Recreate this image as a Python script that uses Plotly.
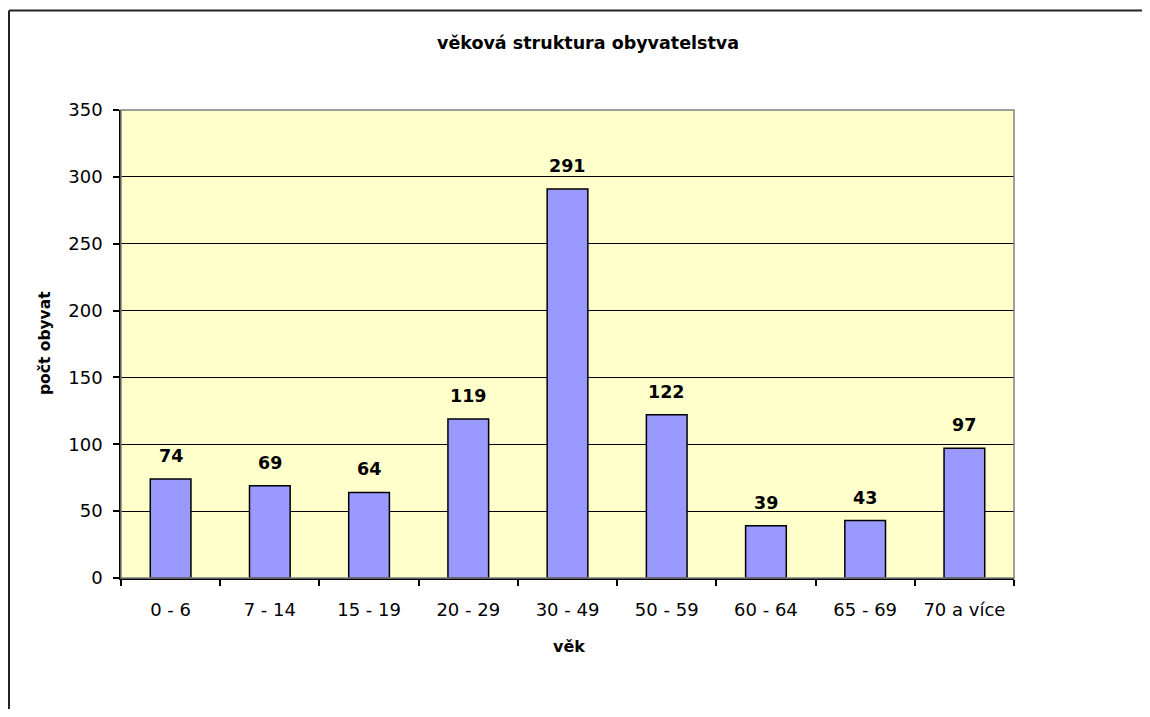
import plotly.graph_objects as go

categories = ["0 - 6", "7 - 14", "15 - 19", "20 - 29", "30 - 49", "50 - 59", "60 - 64", "65 - 69", "70 a více"]
values = [74, 69, 64, 119, 291, 122, 39, 43, 97]
y_ticks = [0, 50, 100, 150, 200, 250, 300, 350]

title_text = "věková struktura obyvatelstva"
x_title = "věk"
y_title = "počt obyvat"

OFF = 8  # page body margin
W, H = 1150 - 2 * OFF, 717 - 2 * OFF
# target page coordinates of plot area, converted to figure coordinates
L, R, T, B = 121 - OFF, 1014 - OFF, 110 - OFF, 578 - OFF
pw, ph = R - L, B - T

def px(x):  # page x -> paper
    return (x - OFF - L) / pw

def py(y):  # page y -> paper
    return (B - (y - OFF)) / ph

font = "DejaVu Sans, Verdana, sans-serif"

fig = go.Figure()
fig.add_trace(go.Bar(
    x=categories, y=values,
    marker=dict(color="#9999FF", line=dict(color="#000000", width=1.5)),
    hoverinfo="x+y",
))

annotations = []
for c, v in zip(categories, values):
    annotations.append(dict(x=c, y=v, xref="x", yref="y", text=f"<b>{v}</b>",
                            showarrow=False, yshift=23, yanchor="middle",
                            font=dict(family=font, size=17.5, color="#000000")))
annotations.append(dict(x=px(587.5), y=py(43), xref="paper", yref="paper",
                        text=f"<b>{title_text}</b>", showarrow=False,
                        xanchor="center", yanchor="middle",
                        font=dict(family=font, size=17.5, color="#000000")))
annotations.append(dict(x=px(569), y=py(646), xref="paper", yref="paper",
                        text=f"<b>{x_title}</b>", showarrow=False,
                        xanchor="center", yanchor="middle",
                        font=dict(family=font, size=16, color="#000000")))
annotations.append(dict(x=px(45), y=py(343), xref="paper", yref="paper",
                        text=f"<b>{y_title}</b>", showarrow=False, textangle=-90,
                        xanchor="center", yanchor="middle",
                        font=dict(family=font, size=15.5, color="#000000")))

border = dict(color="#222222", width=2)
shapes = [
    dict(type="rect", xref="paper", yref="paper", x0=0, x1=1, y0=0, y1=1,
         line=dict(color="#808080", width=1.5), layer="above"),
    dict(type="line", xref="paper", yref="paper", x0=px(9), x1=px(1160), y0=py(10.5), y1=py(10.5),
         line=border, layer="above"),
    dict(type="line", xref="paper", yref="paper", x0=px(9), x1=px(9), y0=py(10.5), y1=py(730),
         line=border, layer="above"),
]

fig.update_layout(
    width=W, height=H,
    margin=dict(l=L, r=W - R, t=T, b=H - B, pad=0),
    paper_bgcolor="#FFFFFF",
    plot_bgcolor="#FFFFCC",
    bargap=0.59,
    showlegend=False,
    annotations=annotations,
    shapes=shapes,
    font=dict(family=font, size=18, color="#000000"),
)
fig.update_xaxes(
    type="category", showgrid=False, showline=True, linecolor="#000000", linewidth=1.5,
    ticks="outside", ticklen=6, tickcolor="#000000", tickwidth=1.5, tickson="boundaries",
    tickfont=dict(family=font, size=18, color="#000000"), ticklabelstandoff=15,
    zeroline=False,
)
fig.update_yaxes(
    range=[0, 350], tickvals=y_ticks, showgrid=True, gridcolor="#000000", gridwidth=1.2,
    showline=True, linecolor="#000000", linewidth=1.5,
    ticks="outside", ticklen=6, tickcolor="#000000", tickwidth=1.5,
    tickfont=dict(family=font, size=18, color="#000000"), ticklabelstandoff=7,
    zeroline=False,
)

fig.write_html("out.html")
